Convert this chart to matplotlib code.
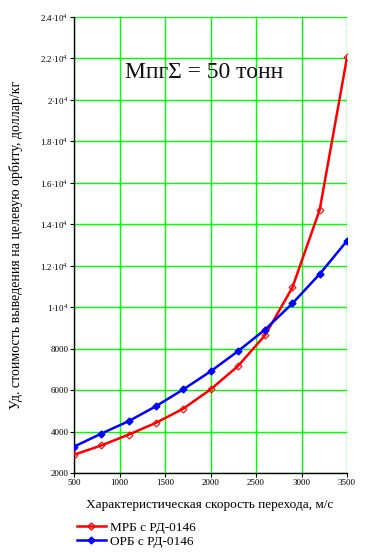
import matplotlib
matplotlib.use('Agg')
import matplotlib.pyplot as plt
from matplotlib.lines import Line2D

# characteristic velocity, m/s
dv = [500, 800, 1100, 1400, 1700, 2000, 2300, 2600, 2900, 3200, 3500]
# specific cost, $/kg
mrb = [2880, 3330, 3850, 4420, 5100, 6030, 7150, 8650, 10950, 14700, 22050]
orb = [3270, 3900, 4500, 5220, 6030, 6900, 7870, 8920, 10180, 11600, 13200]

yticks = [2000, 4000, 6000, 8000, 10000, 12000, 14000, 16000, 18000, 20000, 22000, 24000]
ylabels = ['2000', '4000', '6000', '8000', r'1$\cdot$10$^4$', r'1.2$\cdot$10$^4$', r'1.4$\cdot$10$^4$',
           r'1.6$\cdot$10$^4$', r'1.8$\cdot$10$^4$', r'2$\cdot$10$^4$', r'2.2$\cdot$10$^4$', r'2.4$\cdot$10$^4$']
xticks = [500, 1000, 1500, 2000, 2500, 3000, 3500]

plt.rcParams['font.family'] = ['Liberation Serif', 'DejaVu Serif']
plt.rcParams['mathtext.fontset'] = 'custom'
plt.rcParams['mathtext.rm'] = 'Liberation Serif'

fig = plt.figure(figsize=(3.66, 5.58), dpi=100)
ax = fig.add_axes([74/366, 1-473/558, 273/366, 456/558])

ax.plot(dv, mrb, color='#ff0000', lw=1.8, marker='D', ms=3.5, mfc='none', mec='#ff0000', mew=0.8, zorder=3)
ax.plot(dv, orb, color='#0000ff', lw=1.8, marker='D', ms=3.5, mfc='#0000ff', mec='#0000ff', zorder=4)

ax.set_xlim(500, 3500)
ax.set_ylim(2000, 24000)
ax.set_xticks(xticks)
ax.set_xticklabels([str(t) for t in xticks])
ax.set_yticks(yticks)
ax.set_yticklabels(ylabels)
ax.tick_params(labelsize=6.5, length=3, width=0.8, pad=1)
ax.grid(True, color='#00ff00', lw=1)
ax.set_axisbelow(True)
for s in ['top', 'right']:
    ax.spines[s].set_visible(False)
for s in ['left', 'bottom']:
    ax.spines[s].set_linewidth(1)

fig.text(125/366, 1-73/558, 'Мпг\u03a3 = 50 тонн', fontsize=17, color='#111111', va='center')

fig.text(210/366, 1-505/558, 'Характеристическая скорость перехода, м/с', ha='center', va='center', fontsize=9.5)
fig.text(16/366, 1-245/558, 'Уд. стоимость выведения на целевую орбиту, доллар/кг', ha='center', va='center',
         rotation=90, fontsize=10)

handles = [Line2D([], [], color='#ff0000', lw=1.8, marker='D', ms=3.5, mfc='none', mec='#ff0000'),
           Line2D([], [], color='#0000ff', lw=1.8, marker='D', ms=3.5, mfc='#0000ff')]
fig.legend(handles, ['МРБ с РД-0146', 'ОРБ с РД-0146'], loc='upper left', bbox_to_anchor=(70/366, 1-515/558),
           frameon=False, fontsize=9.5, handlelength=2.2, handletextpad=0.3, labelspacing=0.15, borderpad=0)

fig.savefig('out.png', dpi=100)
